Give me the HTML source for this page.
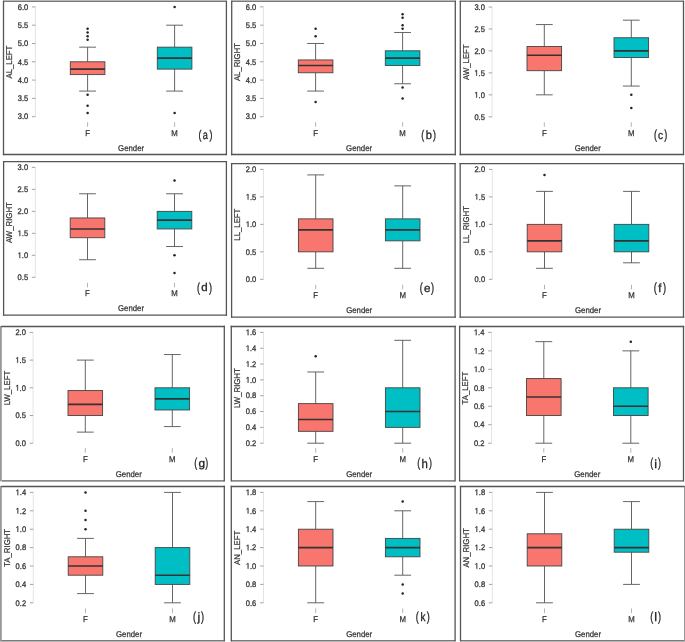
<!DOCTYPE html>
<html><head><meta charset="utf-8"><style>
html,body{margin:0;padding:0;background:#fff;}
body{width:685px;height:642px;overflow:hidden;}
svg{display:block;will-change:transform;}
text{font-family:"Liberation Sans", sans-serif;text-rendering:geometricPrecision;}
.tl{font-size:8.1px;fill:#333;stroke:#333;stroke-width:0.3px;}
.yl{font-size:8.4px;fill:#333;stroke:#333;stroke-width:0.25px;}
.xl{font-size:8.4px;fill:#333;stroke:#333;stroke-width:0.25px;}
.pl{fill:#222;stroke:#222;stroke-width:0.3px;}
.wk{stroke:#555;stroke-width:0.9;}
.bx{stroke:#444;stroke-width:0.9;}
.md{stroke:#333;stroke-width:1.6;}
.ol{fill:#222;}
.one{fill:#333;stroke:#333;stroke-width:0.3px;vector-effect:non-scaling-stroke;}
</style></head><body>
<svg width="685" height="642" viewBox="0 0 685 642">
<rect x="0" y="0" width="685" height="642" fill="#fff"/>
<rect x="3" y="0" width="223.9" height="1" fill="#b8b8b8"/>
<rect x="3" y="1" width="223.9" height="1" fill="#7a7a7a"/>
<rect x="231.2" y="0" width="224.6" height="1" fill="#b8b8b8"/>
<rect x="231.2" y="1" width="224.6" height="1" fill="#7a7a7a"/>
<rect x="459.8" y="0" width="224.2" height="1" fill="#b8b8b8"/>
<rect x="459.8" y="1" width="224.2" height="1" fill="#7a7a7a"/>
<rect x="0" y="640" width="224.8" height="1" fill="#7a7a7a"/>
<rect x="0" y="641" width="224.8" height="1" fill="#b8b8b8"/>
<rect x="230.8" y="640" width="224.8" height="1" fill="#7a7a7a"/>
<rect x="230.8" y="641" width="224.8" height="1" fill="#b8b8b8"/>
<rect x="460" y="640" width="225" height="1" fill="#7a7a7a"/>
<rect x="460" y="641" width="225" height="1" fill="#b8b8b8"/>
<rect x="0" y="326" width="1.8" height="155.3" fill="#999"/>
<rect x="0" y="486" width="1.8" height="155" fill="#999"/>
<rect x="684" y="486" width="1" height="155" fill="#999"/>
<line x1="3.5" y1="154.5" x2="226.4" y2="154.5" stroke="#555" stroke-width="1.3" stroke-linecap="square"/>
<line x1="3.5" y1="1.5" x2="3.5" y2="154.5" stroke="#555" stroke-width="1.3" stroke-linecap="square"/>
<line x1="226.4" y1="1.5" x2="226.4" y2="154.5" stroke="#555" stroke-width="1.3" stroke-linecap="square"/>
<line x1="35.4" y1="6.9" x2="35.4" y2="116.7" stroke="#e4e4e4" stroke-width="1"/>
<line x1="32" y1="116.7" x2="35.4" y2="116.7" stroke="#9a9a9a" stroke-width="0.9"/>
<g transform="translate(28.2,119.45) scale(0.93,1)">
<text x="0" y="0" text-anchor="end" class="tl">3.0</text>
</g>
<line x1="32" y1="98.4" x2="35.4" y2="98.4" stroke="#9a9a9a" stroke-width="0.9"/>
<g transform="translate(28.2,101.15) scale(0.93,1)">
<text x="0" y="0" text-anchor="end" class="tl">3.5</text>
</g>
<line x1="32" y1="80.1" x2="35.4" y2="80.1" stroke="#9a9a9a" stroke-width="0.9"/>
<g transform="translate(28.2,82.85) scale(0.93,1)">
<text x="0" y="0" text-anchor="end" class="tl">4.0</text>
</g>
<line x1="32" y1="61.8" x2="35.4" y2="61.8" stroke="#9a9a9a" stroke-width="0.9"/>
<g transform="translate(28.2,64.55) scale(0.93,1)">
<text x="0" y="0" text-anchor="end" class="tl">4.5</text>
</g>
<line x1="32" y1="43.5" x2="35.4" y2="43.5" stroke="#9a9a9a" stroke-width="0.9"/>
<g transform="translate(28.2,46.25) scale(0.93,1)">
<text x="0" y="0" text-anchor="end" class="tl">5.0</text>
</g>
<line x1="32" y1="25.2" x2="35.4" y2="25.2" stroke="#9a9a9a" stroke-width="0.9"/>
<g transform="translate(28.2,27.95) scale(0.93,1)">
<text x="0" y="0" text-anchor="end" class="tl">5.5</text>
</g>
<line x1="32" y1="6.9" x2="35.4" y2="6.9" stroke="#9a9a9a" stroke-width="0.9"/>
<g transform="translate(28.2,9.65) scale(0.93,1)">
<text x="0" y="0" text-anchor="end" class="tl">6.0</text>
</g>
<text transform="translate(12.1,62.1) rotate(-90) scale(0.93,1)" text-anchor="middle" class="yl">AL_LEFT</text>
<line x1="87.6" y1="47.16" x2="87.6" y2="61.8" class="wk"/>
<line x1="87.6" y1="74.61" x2="87.6" y2="91.08" class="wk"/>
<line x1="79.2" y1="47.16" x2="96" y2="47.16" class="wk"/>
<line x1="79.2" y1="91.08" x2="96" y2="91.08" class="wk"/>
<rect x="70.3" y="61.8" width="34.6" height="12.81" fill="#F8766D" class="bx"/>
<line x1="70.3" y1="69.12" x2="104.9" y2="69.12" class="md"/>
<circle cx="87.6" cy="28.86" r="1.25" class="ol"/>
<circle cx="87.6" cy="32.52" r="1.25" class="ol"/>
<circle cx="87.6" cy="36.18" r="1.25" class="ol"/>
<circle cx="87.6" cy="39.84" r="1.25" class="ol"/>
<circle cx="87.6" cy="94.74" r="1.25" class="ol"/>
<circle cx="87.6" cy="105.72" r="1.25" class="ol"/>
<circle cx="87.6" cy="113.04" r="1.25" class="ol"/>
<line x1="87.6" y1="122.2" x2="87.6" y2="126.7" stroke="#aaa" stroke-width="0.9"/>
<text transform="translate(87.6,135.7) scale(0.93,1)" text-anchor="middle" class="xl">F</text>
<line x1="174.6" y1="25.2" x2="174.6" y2="47.16" class="wk"/>
<line x1="174.6" y1="69.12" x2="174.6" y2="91.08" class="wk"/>
<line x1="166.2" y1="25.2" x2="183" y2="25.2" class="wk"/>
<line x1="166.2" y1="91.08" x2="183" y2="91.08" class="wk"/>
<rect x="157.3" y="47.16" width="34.6" height="21.96" fill="#00BFC4" class="bx"/>
<line x1="157.3" y1="58.14" x2="191.9" y2="58.14" class="md"/>
<circle cx="174.6" cy="6.9" r="1.25" class="ol"/>
<circle cx="174.6" cy="113.04" r="1.25" class="ol"/>
<line x1="174.6" y1="122.2" x2="174.6" y2="126.7" stroke="#aaa" stroke-width="0.9"/>
<text transform="translate(174.6,135.7) scale(0.93,1)" text-anchor="middle" class="xl">M</text>
<text transform="translate(131.1,150.7) scale(0.93,1)" text-anchor="middle" class="xl">Gender</text>
<text transform="translate(198.49,139.1) scale(0.7,1)" class="pl" font-size="12.56">(</text>
<text transform="translate(202.71,139.18) scale(0.76,1)" class="pl" font-size="12.05">a</text>
<text transform="translate(209.48,139.1) scale(0.7,1)" class="pl" font-size="12.56">)</text>
<line x1="231.7" y1="154.5" x2="455.3" y2="154.5" stroke="#555" stroke-width="1.3" stroke-linecap="square"/>
<line x1="231.7" y1="1.5" x2="231.7" y2="154.5" stroke="#555" stroke-width="1.3" stroke-linecap="square"/>
<line x1="455.3" y1="1.5" x2="455.3" y2="154.5" stroke="#555" stroke-width="1.3" stroke-linecap="square"/>
<line x1="263.4" y1="6.85" x2="263.4" y2="116.7" stroke="#e4e4e4" stroke-width="1"/>
<line x1="260" y1="116.7" x2="263.4" y2="116.7" stroke="#9a9a9a" stroke-width="0.9"/>
<g transform="translate(256.2,119.45) scale(0.93,1)">
<text x="0" y="0" text-anchor="end" class="tl">3.0</text>
</g>
<line x1="260" y1="98.39" x2="263.4" y2="98.39" stroke="#9a9a9a" stroke-width="0.9"/>
<g transform="translate(256.2,101.14) scale(0.93,1)">
<text x="0" y="0" text-anchor="end" class="tl">3.5</text>
</g>
<line x1="260" y1="80.08" x2="263.4" y2="80.08" stroke="#9a9a9a" stroke-width="0.9"/>
<g transform="translate(256.2,82.83) scale(0.93,1)">
<text x="0" y="0" text-anchor="end" class="tl">4.0</text>
</g>
<line x1="260" y1="61.78" x2="263.4" y2="61.78" stroke="#9a9a9a" stroke-width="0.9"/>
<g transform="translate(256.2,64.53) scale(0.93,1)">
<text x="0" y="0" text-anchor="end" class="tl">4.5</text>
</g>
<line x1="260" y1="43.47" x2="263.4" y2="43.47" stroke="#9a9a9a" stroke-width="0.9"/>
<g transform="translate(256.2,46.22) scale(0.93,1)">
<text x="0" y="0" text-anchor="end" class="tl">5.0</text>
</g>
<line x1="260" y1="25.16" x2="263.4" y2="25.16" stroke="#9a9a9a" stroke-width="0.9"/>
<g transform="translate(256.2,27.91) scale(0.93,1)">
<text x="0" y="0" text-anchor="end" class="tl">5.5</text>
</g>
<line x1="260" y1="6.85" x2="263.4" y2="6.85" stroke="#9a9a9a" stroke-width="0.9"/>
<g transform="translate(256.2,9.6) scale(0.93,1)">
<text x="0" y="0" text-anchor="end" class="tl">6.0</text>
</g>
<text transform="translate(240.1,62.07) rotate(-90) scale(0.93,1)" text-anchor="middle" class="yl">AL_RIGHT</text>
<line x1="315.6" y1="43.47" x2="315.6" y2="59.94" class="wk"/>
<line x1="315.6" y1="72.76" x2="315.6" y2="91.07" class="wk"/>
<line x1="307.2" y1="43.47" x2="324" y2="43.47" class="wk"/>
<line x1="307.2" y1="91.07" x2="324" y2="91.07" class="wk"/>
<rect x="298.3" y="59.94" width="34.6" height="12.82" fill="#F8766D" class="bx"/>
<line x1="298.3" y1="65.44" x2="332.9" y2="65.44" class="md"/>
<circle cx="315.6" cy="28.82" r="1.25" class="ol"/>
<circle cx="315.6" cy="36.14" r="1.25" class="ol"/>
<circle cx="315.6" cy="102.05" r="1.25" class="ol"/>
<line x1="315.6" y1="122.17" x2="315.6" y2="126.67" stroke="#aaa" stroke-width="0.9"/>
<text transform="translate(315.6,135.67) scale(0.93,1)" text-anchor="middle" class="xl">F</text>
<line x1="402.6" y1="32.48" x2="402.6" y2="50.79" class="wk"/>
<line x1="402.6" y1="65.44" x2="402.6" y2="83.75" class="wk"/>
<line x1="394.2" y1="32.48" x2="411" y2="32.48" class="wk"/>
<line x1="394.2" y1="83.75" x2="411" y2="83.75" class="wk"/>
<rect x="385.3" y="50.79" width="34.6" height="14.65" fill="#00BFC4" class="bx"/>
<line x1="385.3" y1="58.11" x2="419.9" y2="58.11" class="md"/>
<circle cx="402.6" cy="14.17" r="1.25" class="ol"/>
<circle cx="402.6" cy="17.83" r="1.25" class="ol"/>
<circle cx="402.6" cy="25.16" r="1.25" class="ol"/>
<circle cx="402.6" cy="28.82" r="1.25" class="ol"/>
<circle cx="402.6" cy="87.41" r="1.25" class="ol"/>
<circle cx="402.6" cy="98.39" r="1.25" class="ol"/>
<line x1="402.6" y1="122.17" x2="402.6" y2="126.67" stroke="#aaa" stroke-width="0.9"/>
<text transform="translate(402.6,135.67) scale(0.93,1)" text-anchor="middle" class="xl">M</text>
<text transform="translate(359.1,150.68) scale(0.93,1)" text-anchor="middle" class="xl">Gender</text>
<text transform="translate(421.24,139.1) scale(0.7,1)" class="pl" font-size="12.56">(</text>
<text transform="translate(425.68,139.18) scale(0.93,1)" class="pl" font-size="11.98">b</text>
<text transform="translate(433.08,139.1) scale(0.7,1)" class="pl" font-size="12.56">)</text>
<line x1="460.3" y1="154.5" x2="683.5" y2="154.5" stroke="#555" stroke-width="1.3" stroke-linecap="square"/>
<line x1="460.3" y1="1.5" x2="460.3" y2="154.5" stroke="#555" stroke-width="1.3" stroke-linecap="square"/>
<line x1="683.5" y1="1.5" x2="683.5" y2="154.5" stroke="#555" stroke-width="1.3" stroke-linecap="square"/>
<line x1="492.1" y1="7" x2="492.1" y2="116.8" stroke="#e4e4e4" stroke-width="1"/>
<line x1="488.7" y1="116.8" x2="492.1" y2="116.8" stroke="#9a9a9a" stroke-width="0.9"/>
<g transform="translate(484.9,119.55) scale(0.93,1)">
<text x="0" y="0" text-anchor="end" class="tl">0.5</text>
</g>
<line x1="488.7" y1="94.84" x2="492.1" y2="94.84" stroke="#9a9a9a" stroke-width="0.9"/>
<g transform="translate(484.9,97.59) scale(0.93,1)">
<text x="0" y="0" text-anchor="end" class="tl"> .0</text>
<path transform="translate(-11.26,0) scale(0.00396,-0.00396)" d="M515 0L515 1237L197 1010L197 1180L530 1409L696 1409L696 0Z" class="one"/>
</g>
<line x1="488.7" y1="72.88" x2="492.1" y2="72.88" stroke="#9a9a9a" stroke-width="0.9"/>
<g transform="translate(484.9,75.63) scale(0.93,1)">
<text x="0" y="0" text-anchor="end" class="tl"> .5</text>
<path transform="translate(-11.26,0) scale(0.00396,-0.00396)" d="M515 0L515 1237L197 1010L197 1180L530 1409L696 1409L696 0Z" class="one"/>
</g>
<line x1="488.7" y1="50.92" x2="492.1" y2="50.92" stroke="#9a9a9a" stroke-width="0.9"/>
<g transform="translate(484.9,53.67) scale(0.93,1)">
<text x="0" y="0" text-anchor="end" class="tl">2.0</text>
</g>
<line x1="488.7" y1="28.96" x2="492.1" y2="28.96" stroke="#9a9a9a" stroke-width="0.9"/>
<g transform="translate(484.9,31.71) scale(0.93,1)">
<text x="0" y="0" text-anchor="end" class="tl">2.5</text>
</g>
<line x1="488.7" y1="7" x2="492.1" y2="7" stroke="#9a9a9a" stroke-width="0.9"/>
<g transform="translate(484.9,9.75) scale(0.93,1)">
<text x="0" y="0" text-anchor="end" class="tl">3.0</text>
</g>
<text transform="translate(468.8,62.2) rotate(-90) scale(0.93,1)" text-anchor="middle" class="yl">AW_LEFT</text>
<line x1="544.3" y1="24.57" x2="544.3" y2="46.53" class="wk"/>
<line x1="544.3" y1="70.68" x2="544.3" y2="94.84" class="wk"/>
<line x1="535.9" y1="24.57" x2="552.7" y2="24.57" class="wk"/>
<line x1="535.9" y1="94.84" x2="552.7" y2="94.84" class="wk"/>
<rect x="527" y="46.53" width="34.6" height="24.16" fill="#F8766D" class="bx"/>
<line x1="527" y1="55.31" x2="561.6" y2="55.31" class="md"/>
<line x1="544.3" y1="122.3" x2="544.3" y2="126.8" stroke="#aaa" stroke-width="0.9"/>
<text transform="translate(544.3,135.8) scale(0.93,1)" text-anchor="middle" class="xl">F</text>
<line x1="631.3" y1="20.18" x2="631.3" y2="37.74" class="wk"/>
<line x1="631.3" y1="57.51" x2="631.3" y2="86.06" class="wk"/>
<line x1="622.9" y1="20.18" x2="639.7" y2="20.18" class="wk"/>
<line x1="622.9" y1="86.06" x2="639.7" y2="86.06" class="wk"/>
<rect x="614" y="37.74" width="34.6" height="19.76" fill="#00BFC4" class="bx"/>
<line x1="614" y1="50.92" x2="648.6" y2="50.92" class="md"/>
<circle cx="631.3" cy="94.84" r="1.25" class="ol"/>
<circle cx="631.3" cy="108.02" r="1.25" class="ol"/>
<line x1="631.3" y1="122.3" x2="631.3" y2="126.8" stroke="#aaa" stroke-width="0.9"/>
<text transform="translate(631.3,135.8) scale(0.93,1)" text-anchor="middle" class="xl">M</text>
<text transform="translate(587.8,150.8) scale(0.93,1)" text-anchor="middle" class="xl">Gender</text>
<text transform="translate(653.93,139.21) scale(0.7,1)" class="pl" font-size="12.99">(</text>
<text transform="translate(658.07,139.19) scale(0.9,1)" class="pl" font-size="11.32">c</text>
<text transform="translate(664.34,139.21) scale(0.7,1)" class="pl" font-size="12.99">)</text>
<line x1="3.6" y1="161.7" x2="226.4" y2="161.7" stroke="#555" stroke-width="1.3" stroke-linecap="square"/>
<line x1="3.6" y1="315.1" x2="226.4" y2="315.1" stroke="#555" stroke-width="1.3" stroke-linecap="square"/>
<line x1="3.6" y1="161.7" x2="3.6" y2="315.1" stroke="#555" stroke-width="1.3" stroke-linecap="square"/>
<line x1="226.4" y1="161.7" x2="226.4" y2="315.1" stroke="#555" stroke-width="1.3" stroke-linecap="square"/>
<line x1="35.3" y1="167.4" x2="35.3" y2="277.3" stroke="#e4e4e4" stroke-width="1"/>
<line x1="31.9" y1="277.3" x2="35.3" y2="277.3" stroke="#9a9a9a" stroke-width="0.9"/>
<g transform="translate(28.1,280.05) scale(0.93,1)">
<text x="0" y="0" text-anchor="end" class="tl">0.5</text>
</g>
<line x1="31.9" y1="255.32" x2="35.3" y2="255.32" stroke="#9a9a9a" stroke-width="0.9"/>
<g transform="translate(28.1,258.07) scale(0.93,1)">
<text x="0" y="0" text-anchor="end" class="tl"> .0</text>
<path transform="translate(-11.26,0) scale(0.00396,-0.00396)" d="M515 0L515 1237L197 1010L197 1180L530 1409L696 1409L696 0Z" class="one"/>
</g>
<line x1="31.9" y1="233.34" x2="35.3" y2="233.34" stroke="#9a9a9a" stroke-width="0.9"/>
<g transform="translate(28.1,236.09) scale(0.93,1)">
<text x="0" y="0" text-anchor="end" class="tl"> .5</text>
<path transform="translate(-11.26,0) scale(0.00396,-0.00396)" d="M515 0L515 1237L197 1010L197 1180L530 1409L696 1409L696 0Z" class="one"/>
</g>
<line x1="31.9" y1="211.36" x2="35.3" y2="211.36" stroke="#9a9a9a" stroke-width="0.9"/>
<g transform="translate(28.1,214.11) scale(0.93,1)">
<text x="0" y="0" text-anchor="end" class="tl">2.0</text>
</g>
<line x1="31.9" y1="189.38" x2="35.3" y2="189.38" stroke="#9a9a9a" stroke-width="0.9"/>
<g transform="translate(28.1,192.13) scale(0.93,1)">
<text x="0" y="0" text-anchor="end" class="tl">2.5</text>
</g>
<line x1="31.9" y1="167.4" x2="35.3" y2="167.4" stroke="#9a9a9a" stroke-width="0.9"/>
<g transform="translate(28.1,170.15) scale(0.93,1)">
<text x="0" y="0" text-anchor="end" class="tl">3.0</text>
</g>
<text transform="translate(12,222.65) rotate(-90) scale(0.93,1)" text-anchor="middle" class="yl">AW_RIGHT</text>
<line x1="87.5" y1="193.78" x2="87.5" y2="217.95" class="wk"/>
<line x1="87.5" y1="237.74" x2="87.5" y2="259.72" class="wk"/>
<line x1="79.1" y1="193.78" x2="95.9" y2="193.78" class="wk"/>
<line x1="79.1" y1="259.72" x2="95.9" y2="259.72" class="wk"/>
<rect x="70.2" y="217.95" width="34.6" height="19.78" fill="#F8766D" class="bx"/>
<line x1="70.2" y1="228.94" x2="104.8" y2="228.94" class="md"/>
<line x1="87.5" y1="282.74" x2="87.5" y2="287.24" stroke="#aaa" stroke-width="0.9"/>
<text transform="translate(87.5,296.25) scale(0.93,1)" text-anchor="middle" class="xl">F</text>
<line x1="174.5" y1="193.78" x2="174.5" y2="211.36" class="wk"/>
<line x1="174.5" y1="228.94" x2="174.5" y2="246.53" class="wk"/>
<line x1="166.1" y1="193.78" x2="182.9" y2="193.78" class="wk"/>
<line x1="166.1" y1="246.53" x2="182.9" y2="246.53" class="wk"/>
<rect x="157.2" y="211.36" width="34.6" height="17.58" fill="#00BFC4" class="bx"/>
<line x1="157.2" y1="220.15" x2="191.8" y2="220.15" class="md"/>
<circle cx="174.5" cy="180.59" r="1.25" class="ol"/>
<circle cx="174.5" cy="255.32" r="1.25" class="ol"/>
<circle cx="174.5" cy="272.9" r="1.25" class="ol"/>
<line x1="174.5" y1="282.74" x2="174.5" y2="287.24" stroke="#aaa" stroke-width="0.9"/>
<text transform="translate(174.5,296.25) scale(0.93,1)" text-anchor="middle" class="xl">M</text>
<text transform="translate(131,311.25) scale(0.93,1)" text-anchor="middle" class="xl">Gender</text>
<text transform="translate(196.98,291.61) scale(0.7,1)" class="pl" font-size="12.99">(</text>
<text transform="translate(201.21,291.39) scale(1.02,1)" class="pl" font-size="11.3">d</text>
<text transform="translate(208.94,291.61) scale(0.7,1)" class="pl" font-size="12.99">)</text>
<line x1="231.6" y1="163.6" x2="455.1" y2="163.6" stroke="#555" stroke-width="1.3" stroke-linecap="square"/>
<line x1="231.6" y1="317.1" x2="455.1" y2="317.1" stroke="#555" stroke-width="1.3" stroke-linecap="square"/>
<line x1="231.6" y1="163.6" x2="231.6" y2="317.1" stroke="#555" stroke-width="1.3" stroke-linecap="square"/>
<line x1="455.1" y1="163.6" x2="455.1" y2="317.1" stroke="#555" stroke-width="1.3" stroke-linecap="square"/>
<line x1="263.5" y1="169.4" x2="263.5" y2="279.3" stroke="#e4e4e4" stroke-width="1"/>
<line x1="260.1" y1="279.3" x2="263.5" y2="279.3" stroke="#9a9a9a" stroke-width="0.9"/>
<g transform="translate(256.3,282.05) scale(0.93,1)">
<text x="0" y="0" text-anchor="end" class="tl">0.0</text>
</g>
<line x1="260.1" y1="251.83" x2="263.5" y2="251.83" stroke="#9a9a9a" stroke-width="0.9"/>
<g transform="translate(256.3,254.58) scale(0.93,1)">
<text x="0" y="0" text-anchor="end" class="tl">0.5</text>
</g>
<line x1="260.1" y1="224.35" x2="263.5" y2="224.35" stroke="#9a9a9a" stroke-width="0.9"/>
<g transform="translate(256.3,227.1) scale(0.93,1)">
<text x="0" y="0" text-anchor="end" class="tl"> .0</text>
<path transform="translate(-11.26,0) scale(0.00396,-0.00396)" d="M515 0L515 1237L197 1010L197 1180L530 1409L696 1409L696 0Z" class="one"/>
</g>
<line x1="260.1" y1="196.88" x2="263.5" y2="196.88" stroke="#9a9a9a" stroke-width="0.9"/>
<g transform="translate(256.3,199.62) scale(0.93,1)">
<text x="0" y="0" text-anchor="end" class="tl"> .5</text>
<path transform="translate(-11.26,0) scale(0.00396,-0.00396)" d="M515 0L515 1237L197 1010L197 1180L530 1409L696 1409L696 0Z" class="one"/>
</g>
<line x1="260.1" y1="169.4" x2="263.5" y2="169.4" stroke="#9a9a9a" stroke-width="0.9"/>
<g transform="translate(256.3,172.15) scale(0.93,1)">
<text x="0" y="0" text-anchor="end" class="tl">2.0</text>
</g>
<text transform="translate(240.2,224.65) rotate(-90) scale(0.93,1)" text-anchor="middle" class="yl">LL_LEFT</text>
<line x1="315.7" y1="174.9" x2="315.7" y2="218.86" class="wk"/>
<line x1="315.7" y1="251.83" x2="315.7" y2="268.31" class="wk"/>
<line x1="307.3" y1="174.9" x2="324.1" y2="174.9" class="wk"/>
<line x1="307.3" y1="268.31" x2="324.1" y2="268.31" class="wk"/>
<rect x="298.4" y="218.86" width="34.6" height="32.97" fill="#F8766D" class="bx"/>
<line x1="298.4" y1="229.85" x2="333" y2="229.85" class="md"/>
<line x1="315.7" y1="284.74" x2="315.7" y2="289.24" stroke="#aaa" stroke-width="0.9"/>
<text transform="translate(315.7,298.25) scale(0.93,1)" text-anchor="middle" class="xl">F</text>
<line x1="402.7" y1="185.89" x2="402.7" y2="218.86" class="wk"/>
<line x1="402.7" y1="240.84" x2="402.7" y2="268.31" class="wk"/>
<line x1="394.3" y1="185.89" x2="411.1" y2="185.89" class="wk"/>
<line x1="394.3" y1="268.31" x2="411.1" y2="268.31" class="wk"/>
<rect x="385.4" y="218.86" width="34.6" height="21.98" fill="#00BFC4" class="bx"/>
<line x1="385.4" y1="229.85" x2="420" y2="229.85" class="md"/>
<line x1="402.7" y1="284.74" x2="402.7" y2="289.24" stroke="#aaa" stroke-width="0.9"/>
<text transform="translate(402.7,298.25) scale(0.93,1)" text-anchor="middle" class="xl">M</text>
<text transform="translate(359.2,313.25) scale(0.93,1)" text-anchor="middle" class="xl">Gender</text>
<text transform="translate(419.8,291.57) scale(0.7,1)" class="pl" font-size="13.2">(</text>
<text transform="translate(423.91,291.59) scale(1,1)" class="pl" font-size="11.5">e</text>
<text transform="translate(431.02,291.57) scale(0.7,1)" class="pl" font-size="13.2">)</text>
<line x1="460.2" y1="163.6" x2="683.5" y2="163.6" stroke="#555" stroke-width="1.3" stroke-linecap="square"/>
<line x1="460.2" y1="317.1" x2="683.5" y2="317.1" stroke="#555" stroke-width="1.3" stroke-linecap="square"/>
<line x1="460.2" y1="163.6" x2="460.2" y2="317.1" stroke="#555" stroke-width="1.3" stroke-linecap="square"/>
<line x1="683.5" y1="163.6" x2="683.5" y2="317.1" stroke="#555" stroke-width="1.3" stroke-linecap="square"/>
<line x1="492.3" y1="169.4" x2="492.3" y2="279.3" stroke="#e4e4e4" stroke-width="1"/>
<line x1="488.9" y1="279.3" x2="492.3" y2="279.3" stroke="#9a9a9a" stroke-width="0.9"/>
<g transform="translate(485.1,282.05) scale(0.93,1)">
<text x="0" y="0" text-anchor="end" class="tl">0.0</text>
</g>
<line x1="488.9" y1="251.83" x2="492.3" y2="251.83" stroke="#9a9a9a" stroke-width="0.9"/>
<g transform="translate(485.1,254.58) scale(0.93,1)">
<text x="0" y="0" text-anchor="end" class="tl">0.5</text>
</g>
<line x1="488.9" y1="224.35" x2="492.3" y2="224.35" stroke="#9a9a9a" stroke-width="0.9"/>
<g transform="translate(485.1,227.1) scale(0.93,1)">
<text x="0" y="0" text-anchor="end" class="tl"> .0</text>
<path transform="translate(-11.26,0) scale(0.00396,-0.00396)" d="M515 0L515 1237L197 1010L197 1180L530 1409L696 1409L696 0Z" class="one"/>
</g>
<line x1="488.9" y1="196.88" x2="492.3" y2="196.88" stroke="#9a9a9a" stroke-width="0.9"/>
<g transform="translate(485.1,199.62) scale(0.93,1)">
<text x="0" y="0" text-anchor="end" class="tl"> .5</text>
<path transform="translate(-11.26,0) scale(0.00396,-0.00396)" d="M515 0L515 1237L197 1010L197 1180L530 1409L696 1409L696 0Z" class="one"/>
</g>
<line x1="488.9" y1="169.4" x2="492.3" y2="169.4" stroke="#9a9a9a" stroke-width="0.9"/>
<g transform="translate(485.1,172.15) scale(0.93,1)">
<text x="0" y="0" text-anchor="end" class="tl">2.0</text>
</g>
<text transform="translate(469,224.65) rotate(-90) scale(0.93,1)" text-anchor="middle" class="yl">LL_RIGHT</text>
<line x1="544.5" y1="191.38" x2="544.5" y2="224.35" class="wk"/>
<line x1="544.5" y1="251.83" x2="544.5" y2="268.31" class="wk"/>
<line x1="536.1" y1="191.38" x2="552.9" y2="191.38" class="wk"/>
<line x1="536.1" y1="268.31" x2="552.9" y2="268.31" class="wk"/>
<rect x="527.2" y="224.35" width="34.6" height="27.47" fill="#F8766D" class="bx"/>
<line x1="527.2" y1="240.84" x2="561.8" y2="240.84" class="md"/>
<circle cx="544.5" cy="174.9" r="1.25" class="ol"/>
<line x1="544.5" y1="284.74" x2="544.5" y2="289.24" stroke="#aaa" stroke-width="0.9"/>
<text transform="translate(544.5,298.25) scale(0.93,1)" text-anchor="middle" class="xl">F</text>
<line x1="631.5" y1="191.38" x2="631.5" y2="224.35" class="wk"/>
<line x1="631.5" y1="251.83" x2="631.5" y2="262.81" class="wk"/>
<line x1="623.1" y1="191.38" x2="639.9" y2="191.38" class="wk"/>
<line x1="623.1" y1="262.81" x2="639.9" y2="262.81" class="wk"/>
<rect x="614.2" y="224.35" width="34.6" height="27.47" fill="#00BFC4" class="bx"/>
<line x1="614.2" y1="240.84" x2="648.8" y2="240.84" class="md"/>
<line x1="631.5" y1="284.74" x2="631.5" y2="289.24" stroke="#aaa" stroke-width="0.9"/>
<text transform="translate(631.5,298.25) scale(0.93,1)" text-anchor="middle" class="xl">M</text>
<text transform="translate(588,313.25) scale(0.93,1)" text-anchor="middle" class="xl">Gender</text>
<text transform="translate(653.74,291.64) scale(0.7,1)" class="pl" font-size="13.31">(</text>
<text transform="translate(658.34,291.7) scale(0.96,1)" class="pl" font-size="11.75">f</text>
<text transform="translate(663.01,291.64) scale(0.7,1)" class="pl" font-size="13.31">)</text>
<line x1="1.8" y1="326.5" x2="224.3" y2="326.5" stroke="#555" stroke-width="1.3" stroke-linecap="square"/>
<line x1="1.8" y1="480.9" x2="224.3" y2="480.9" stroke="#8a8a8a" stroke-width="1.7"/>
<line x1="224.3" y1="326.5" x2="224.3" y2="480.8" stroke="#555" stroke-width="1.3" stroke-linecap="square"/>
<line x1="33.1" y1="332.4" x2="33.1" y2="443.2" stroke="#e4e4e4" stroke-width="1"/>
<line x1="29.7" y1="443.2" x2="33.1" y2="443.2" stroke="#9a9a9a" stroke-width="0.9"/>
<g transform="translate(25.9,445.95) scale(0.93,1)">
<text x="0" y="0" text-anchor="end" class="tl">0.0</text>
</g>
<line x1="29.7" y1="415.5" x2="33.1" y2="415.5" stroke="#9a9a9a" stroke-width="0.9"/>
<g transform="translate(25.9,418.25) scale(0.93,1)">
<text x="0" y="0" text-anchor="end" class="tl">0.5</text>
</g>
<line x1="29.7" y1="387.8" x2="33.1" y2="387.8" stroke="#9a9a9a" stroke-width="0.9"/>
<g transform="translate(25.9,390.55) scale(0.93,1)">
<text x="0" y="0" text-anchor="end" class="tl"> .0</text>
<path transform="translate(-11.26,0) scale(0.00396,-0.00396)" d="M515 0L515 1237L197 1010L197 1180L530 1409L696 1409L696 0Z" class="one"/>
</g>
<line x1="29.7" y1="360.1" x2="33.1" y2="360.1" stroke="#9a9a9a" stroke-width="0.9"/>
<g transform="translate(25.9,362.85) scale(0.93,1)">
<text x="0" y="0" text-anchor="end" class="tl"> .5</text>
<path transform="translate(-11.26,0) scale(0.00396,-0.00396)" d="M515 0L515 1237L197 1010L197 1180L530 1409L696 1409L696 0Z" class="one"/>
</g>
<line x1="29.7" y1="332.4" x2="33.1" y2="332.4" stroke="#9a9a9a" stroke-width="0.9"/>
<g transform="translate(25.9,335.15) scale(0.93,1)">
<text x="0" y="0" text-anchor="end" class="tl">2.0</text>
</g>
<text transform="translate(9.8,388.1) rotate(-90) scale(0.93,1)" text-anchor="middle" class="yl">LW_LEFT</text>
<line x1="85.3" y1="360.1" x2="85.3" y2="390.57" class="wk"/>
<line x1="85.3" y1="415.5" x2="85.3" y2="432.12" class="wk"/>
<line x1="76.9" y1="360.1" x2="93.7" y2="360.1" class="wk"/>
<line x1="76.9" y1="432.12" x2="93.7" y2="432.12" class="wk"/>
<rect x="68" y="390.57" width="34.6" height="24.93" fill="#F8766D" class="bx"/>
<line x1="68" y1="404.42" x2="102.6" y2="404.42" class="md"/>
<line x1="85.3" y1="448.12" x2="85.3" y2="452.64" stroke="#aaa" stroke-width="0.9"/>
<text transform="translate(85.3,461.67) scale(0.93,1)" text-anchor="middle" class="xl">F</text>
<line x1="172.3" y1="354.56" x2="172.3" y2="387.8" class="wk"/>
<line x1="172.3" y1="409.96" x2="172.3" y2="426.58" class="wk"/>
<line x1="163.9" y1="354.56" x2="180.7" y2="354.56" class="wk"/>
<line x1="163.9" y1="426.58" x2="180.7" y2="426.58" class="wk"/>
<rect x="155" y="387.8" width="34.6" height="22.16" fill="#00BFC4" class="bx"/>
<line x1="155" y1="398.88" x2="189.6" y2="398.88" class="md"/>
<line x1="172.3" y1="448.12" x2="172.3" y2="452.64" stroke="#aaa" stroke-width="0.9"/>
<text transform="translate(172.3,461.67) scale(0.93,1)" text-anchor="middle" class="xl">M</text>
<text transform="translate(128.8,476.72) scale(0.93,1)" text-anchor="middle" class="xl">Gender</text>
<text transform="translate(194.31,467.26) scale(0.7,1)" class="pl" font-size="12.77">(</text>
<text transform="translate(198.49,466.94) scale(1.04,1)" class="pl" font-size="11.39" font-family="Liberation Serif">g</text>
<text transform="translate(205.31,467.26) scale(0.7,1)" class="pl" font-size="12.77">)</text>
<line x1="231.3" y1="326.5" x2="455.1" y2="326.5" stroke="#555" stroke-width="1.3" stroke-linecap="square"/>
<line x1="231.3" y1="480.9" x2="455.1" y2="480.9" stroke="#8a8a8a" stroke-width="1.7"/>
<line x1="231.3" y1="326.5" x2="231.3" y2="480.8" stroke="#555" stroke-width="1.3" stroke-linecap="square"/>
<line x1="455.1" y1="326.5" x2="455.1" y2="480.8" stroke="#555" stroke-width="1.3" stroke-linecap="square"/>
<line x1="263.5" y1="332.4" x2="263.5" y2="443.2" stroke="#e4e4e4" stroke-width="1"/>
<line x1="260.1" y1="443.2" x2="263.5" y2="443.2" stroke="#9a9a9a" stroke-width="0.9"/>
<g transform="translate(256.3,445.95) scale(0.93,1)">
<text x="0" y="0" text-anchor="end" class="tl">0.2</text>
</g>
<line x1="260.1" y1="427.37" x2="263.5" y2="427.37" stroke="#9a9a9a" stroke-width="0.9"/>
<g transform="translate(256.3,430.12) scale(0.93,1)">
<text x="0" y="0" text-anchor="end" class="tl">0.4</text>
</g>
<line x1="260.1" y1="411.54" x2="263.5" y2="411.54" stroke="#9a9a9a" stroke-width="0.9"/>
<g transform="translate(256.3,414.29) scale(0.93,1)">
<text x="0" y="0" text-anchor="end" class="tl">0.6</text>
</g>
<line x1="260.1" y1="395.71" x2="263.5" y2="395.71" stroke="#9a9a9a" stroke-width="0.9"/>
<g transform="translate(256.3,398.46) scale(0.93,1)">
<text x="0" y="0" text-anchor="end" class="tl">0.8</text>
</g>
<line x1="260.1" y1="379.89" x2="263.5" y2="379.89" stroke="#9a9a9a" stroke-width="0.9"/>
<g transform="translate(256.3,382.64) scale(0.93,1)">
<text x="0" y="0" text-anchor="end" class="tl"> .0</text>
<path transform="translate(-11.26,0) scale(0.00396,-0.00396)" d="M515 0L515 1237L197 1010L197 1180L530 1409L696 1409L696 0Z" class="one"/>
</g>
<line x1="260.1" y1="364.06" x2="263.5" y2="364.06" stroke="#9a9a9a" stroke-width="0.9"/>
<g transform="translate(256.3,366.81) scale(0.93,1)">
<text x="0" y="0" text-anchor="end" class="tl"> .2</text>
<path transform="translate(-11.26,0) scale(0.00396,-0.00396)" d="M515 0L515 1237L197 1010L197 1180L530 1409L696 1409L696 0Z" class="one"/>
</g>
<line x1="260.1" y1="348.23" x2="263.5" y2="348.23" stroke="#9a9a9a" stroke-width="0.9"/>
<g transform="translate(256.3,350.98) scale(0.93,1)">
<text x="0" y="0" text-anchor="end" class="tl"> .4</text>
<path transform="translate(-11.26,0) scale(0.00396,-0.00396)" d="M515 0L515 1237L197 1010L197 1180L530 1409L696 1409L696 0Z" class="one"/>
</g>
<line x1="260.1" y1="332.4" x2="263.5" y2="332.4" stroke="#9a9a9a" stroke-width="0.9"/>
<g transform="translate(256.3,335.15) scale(0.93,1)">
<text x="0" y="0" text-anchor="end" class="tl"> .6</text>
<path transform="translate(-11.26,0) scale(0.00396,-0.00396)" d="M515 0L515 1237L197 1010L197 1180L530 1409L696 1409L696 0Z" class="one"/>
</g>
<text transform="translate(240.2,388.1) rotate(-90) scale(0.93,1)" text-anchor="middle" class="yl">LW_RIGHT</text>
<line x1="315.7" y1="371.97" x2="315.7" y2="403.63" class="wk"/>
<line x1="315.7" y1="431.33" x2="315.7" y2="443.2" class="wk"/>
<line x1="307.3" y1="371.97" x2="324.1" y2="371.97" class="wk"/>
<line x1="307.3" y1="443.2" x2="324.1" y2="443.2" class="wk"/>
<rect x="298.4" y="403.63" width="34.6" height="27.7" fill="#F8766D" class="bx"/>
<line x1="298.4" y1="419.46" x2="333" y2="419.46" class="md"/>
<circle cx="315.7" cy="356.14" r="1.25" class="ol"/>
<line x1="315.7" y1="448.12" x2="315.7" y2="452.64" stroke="#aaa" stroke-width="0.9"/>
<text transform="translate(315.7,461.67) scale(0.93,1)" text-anchor="middle" class="xl">F</text>
<line x1="402.7" y1="340.31" x2="402.7" y2="387.8" class="wk"/>
<line x1="402.7" y1="427.37" x2="402.7" y2="443.2" class="wk"/>
<line x1="394.3" y1="340.31" x2="411.1" y2="340.31" class="wk"/>
<line x1="394.3" y1="443.2" x2="411.1" y2="443.2" class="wk"/>
<rect x="385.4" y="387.8" width="34.6" height="39.57" fill="#00BFC4" class="bx"/>
<line x1="385.4" y1="411.54" x2="420" y2="411.54" class="md"/>
<line x1="402.7" y1="448.12" x2="402.7" y2="452.64" stroke="#aaa" stroke-width="0.9"/>
<text transform="translate(402.7,461.67) scale(0.93,1)" text-anchor="middle" class="xl">M</text>
<text transform="translate(359.2,476.72) scale(0.93,1)" text-anchor="middle" class="xl">Gender</text>
<text transform="translate(417.21,467.26) scale(0.7,1)" class="pl" font-size="12.77">(</text>
<text transform="translate(421.41,467.5) scale(0.92,1)" class="pl" font-size="12.42">h</text>
<text transform="translate(428.96,467.26) scale(0.7,1)" class="pl" font-size="12.77">)</text>
<line x1="459.6" y1="326.5" x2="683.5" y2="326.5" stroke="#555" stroke-width="1.3" stroke-linecap="square"/>
<line x1="459.6" y1="480.9" x2="683.5" y2="480.9" stroke="#8a8a8a" stroke-width="1.7"/>
<line x1="459.6" y1="326.5" x2="459.6" y2="480.8" stroke="#555" stroke-width="1.3" stroke-linecap="square"/>
<line x1="683.5" y1="326.5" x2="683.5" y2="480.8" stroke="#555" stroke-width="1.3" stroke-linecap="square"/>
<line x1="491.6" y1="332.4" x2="491.6" y2="443.2" stroke="#e4e4e4" stroke-width="1"/>
<line x1="488.2" y1="443.2" x2="491.6" y2="443.2" stroke="#9a9a9a" stroke-width="0.9"/>
<g transform="translate(484.4,445.95) scale(0.93,1)">
<text x="0" y="0" text-anchor="end" class="tl">0.2</text>
</g>
<line x1="488.2" y1="424.73" x2="491.6" y2="424.73" stroke="#9a9a9a" stroke-width="0.9"/>
<g transform="translate(484.4,427.48) scale(0.93,1)">
<text x="0" y="0" text-anchor="end" class="tl">0.4</text>
</g>
<line x1="488.2" y1="406.27" x2="491.6" y2="406.27" stroke="#9a9a9a" stroke-width="0.9"/>
<g transform="translate(484.4,409.02) scale(0.93,1)">
<text x="0" y="0" text-anchor="end" class="tl">0.6</text>
</g>
<line x1="488.2" y1="387.8" x2="491.6" y2="387.8" stroke="#9a9a9a" stroke-width="0.9"/>
<g transform="translate(484.4,390.55) scale(0.93,1)">
<text x="0" y="0" text-anchor="end" class="tl">0.8</text>
</g>
<line x1="488.2" y1="369.33" x2="491.6" y2="369.33" stroke="#9a9a9a" stroke-width="0.9"/>
<g transform="translate(484.4,372.08) scale(0.93,1)">
<text x="0" y="0" text-anchor="end" class="tl"> .0</text>
<path transform="translate(-11.26,0) scale(0.00396,-0.00396)" d="M515 0L515 1237L197 1010L197 1180L530 1409L696 1409L696 0Z" class="one"/>
</g>
<line x1="488.2" y1="350.87" x2="491.6" y2="350.87" stroke="#9a9a9a" stroke-width="0.9"/>
<g transform="translate(484.4,353.62) scale(0.93,1)">
<text x="0" y="0" text-anchor="end" class="tl"> .2</text>
<path transform="translate(-11.26,0) scale(0.00396,-0.00396)" d="M515 0L515 1237L197 1010L197 1180L530 1409L696 1409L696 0Z" class="one"/>
</g>
<line x1="488.2" y1="332.4" x2="491.6" y2="332.4" stroke="#9a9a9a" stroke-width="0.9"/>
<g transform="translate(484.4,335.15) scale(0.93,1)">
<text x="0" y="0" text-anchor="end" class="tl"> .4</text>
<path transform="translate(-11.26,0) scale(0.00396,-0.00396)" d="M515 0L515 1237L197 1010L197 1180L530 1409L696 1409L696 0Z" class="one"/>
</g>
<text transform="translate(468.3,388.1) rotate(-90) scale(0.93,1)" text-anchor="middle" class="yl">TA_LEFT</text>
<line x1="543.8" y1="341.63" x2="543.8" y2="378.57" class="wk"/>
<line x1="543.8" y1="415.5" x2="543.8" y2="443.2" class="wk"/>
<line x1="535.4" y1="341.63" x2="552.2" y2="341.63" class="wk"/>
<line x1="535.4" y1="443.2" x2="552.2" y2="443.2" class="wk"/>
<rect x="526.5" y="378.57" width="34.6" height="36.93" fill="#F8766D" class="bx"/>
<line x1="526.5" y1="397.03" x2="561.1" y2="397.03" class="md"/>
<line x1="543.8" y1="448.12" x2="543.8" y2="452.64" stroke="#aaa" stroke-width="0.9"/>
<text transform="translate(543.8,461.67) scale(0.93,1)" text-anchor="middle" class="xl">F</text>
<line x1="630.8" y1="350.87" x2="630.8" y2="387.8" class="wk"/>
<line x1="630.8" y1="415.5" x2="630.8" y2="443.2" class="wk"/>
<line x1="622.4" y1="350.87" x2="639.2" y2="350.87" class="wk"/>
<line x1="622.4" y1="443.2" x2="639.2" y2="443.2" class="wk"/>
<rect x="613.5" y="387.8" width="34.6" height="27.7" fill="#00BFC4" class="bx"/>
<line x1="613.5" y1="406.27" x2="648.1" y2="406.27" class="md"/>
<circle cx="630.8" cy="341.63" r="1.25" class="ol"/>
<line x1="630.8" y1="448.12" x2="630.8" y2="452.64" stroke="#aaa" stroke-width="0.9"/>
<text transform="translate(630.8,461.67) scale(0.93,1)" text-anchor="middle" class="xl">M</text>
<text transform="translate(587.3,476.72) scale(0.93,1)" text-anchor="middle" class="xl">Gender</text>
<text transform="translate(650.31,467.26) scale(0.7,1)" class="pl" font-size="12.77">(</text>
<text transform="translate(654.26,467.5) scale(1.07,1)" class="pl" font-size="11.73">i</text>
<text transform="translate(658.01,467.26) scale(0.7,1)" class="pl" font-size="12.77">)</text>
<line x1="1.8" y1="486.5" x2="224.3" y2="486.5" stroke="#555" stroke-width="1.3" stroke-linecap="square"/>
<line x1="224.3" y1="486.5" x2="224.3" y2="640.5" stroke="#555" stroke-width="1.3" stroke-linecap="square"/>
<line x1="33.3" y1="492.4" x2="33.3" y2="602.8" stroke="#e4e4e4" stroke-width="1"/>
<line x1="29.9" y1="602.8" x2="33.3" y2="602.8" stroke="#9a9a9a" stroke-width="0.9"/>
<g transform="translate(26.1,605.55) scale(0.93,1)">
<text x="0" y="0" text-anchor="end" class="tl">0.2</text>
</g>
<line x1="29.9" y1="584.4" x2="33.3" y2="584.4" stroke="#9a9a9a" stroke-width="0.9"/>
<g transform="translate(26.1,587.15) scale(0.93,1)">
<text x="0" y="0" text-anchor="end" class="tl">0.4</text>
</g>
<line x1="29.9" y1="566" x2="33.3" y2="566" stroke="#9a9a9a" stroke-width="0.9"/>
<g transform="translate(26.1,568.75) scale(0.93,1)">
<text x="0" y="0" text-anchor="end" class="tl">0.6</text>
</g>
<line x1="29.9" y1="547.6" x2="33.3" y2="547.6" stroke="#9a9a9a" stroke-width="0.9"/>
<g transform="translate(26.1,550.35) scale(0.93,1)">
<text x="0" y="0" text-anchor="end" class="tl">0.8</text>
</g>
<line x1="29.9" y1="529.2" x2="33.3" y2="529.2" stroke="#9a9a9a" stroke-width="0.9"/>
<g transform="translate(26.1,531.95) scale(0.93,1)">
<text x="0" y="0" text-anchor="end" class="tl"> .0</text>
<path transform="translate(-11.26,0) scale(0.00396,-0.00396)" d="M515 0L515 1237L197 1010L197 1180L530 1409L696 1409L696 0Z" class="one"/>
</g>
<line x1="29.9" y1="510.8" x2="33.3" y2="510.8" stroke="#9a9a9a" stroke-width="0.9"/>
<g transform="translate(26.1,513.55) scale(0.93,1)">
<text x="0" y="0" text-anchor="end" class="tl"> .2</text>
<path transform="translate(-11.26,0) scale(0.00396,-0.00396)" d="M515 0L515 1237L197 1010L197 1180L530 1409L696 1409L696 0Z" class="one"/>
</g>
<line x1="29.9" y1="492.4" x2="33.3" y2="492.4" stroke="#9a9a9a" stroke-width="0.9"/>
<g transform="translate(26.1,495.15) scale(0.93,1)">
<text x="0" y="0" text-anchor="end" class="tl"> .4</text>
<path transform="translate(-11.26,0) scale(0.00396,-0.00396)" d="M515 0L515 1237L197 1010L197 1180L530 1409L696 1409L696 0Z" class="one"/>
</g>
<text transform="translate(10,547.9) rotate(-90) scale(0.93,1)" text-anchor="middle" class="yl">TA_RIGHT</text>
<line x1="85.5" y1="538.4" x2="85.5" y2="556.8" class="wk"/>
<line x1="85.5" y1="575.2" x2="85.5" y2="593.6" class="wk"/>
<line x1="77.1" y1="538.4" x2="93.9" y2="538.4" class="wk"/>
<line x1="77.1" y1="593.6" x2="93.9" y2="593.6" class="wk"/>
<rect x="68.2" y="556.8" width="34.6" height="18.4" fill="#F8766D" class="bx"/>
<line x1="68.2" y1="566" x2="102.8" y2="566" class="md"/>
<circle cx="85.5" cy="492.4" r="1.25" class="ol"/>
<circle cx="85.5" cy="510.8" r="1.25" class="ol"/>
<circle cx="85.5" cy="520" r="1.25" class="ol"/>
<circle cx="85.5" cy="529.2" r="1.25" class="ol"/>
<line x1="85.5" y1="608.45" x2="85.5" y2="612.96" stroke="#aaa" stroke-width="0.9"/>
<text transform="translate(85.5,621.98) scale(0.93,1)" text-anchor="middle" class="xl">F</text>
<line x1="172.5" y1="492.4" x2="172.5" y2="547.6" class="wk"/>
<line x1="172.5" y1="584.4" x2="172.5" y2="602.8" class="wk"/>
<line x1="164.1" y1="492.4" x2="180.9" y2="492.4" class="wk"/>
<line x1="164.1" y1="602.8" x2="180.9" y2="602.8" class="wk"/>
<rect x="155.2" y="547.6" width="34.6" height="36.8" fill="#00BFC4" class="bx"/>
<line x1="155.2" y1="575.2" x2="189.8" y2="575.2" class="md"/>
<line x1="172.5" y1="608.45" x2="172.5" y2="612.96" stroke="#aaa" stroke-width="0.9"/>
<text transform="translate(172.5,621.98) scale(0.93,1)" text-anchor="middle" class="xl">M</text>
<text transform="translate(129,637.01) scale(0.93,1)" text-anchor="middle" class="xl">Gender</text>
<text transform="translate(193.05,621.07) scale(0.7,1)" class="pl" font-size="13.2">(</text>
<text transform="translate(197.6,621.01) scale(1.02,1)" class="pl" font-size="12.02">j</text>
<text transform="translate(201.07,621.07) scale(0.7,1)" class="pl" font-size="13.2">)</text>
<line x1="231.3" y1="486.5" x2="455.1" y2="486.5" stroke="#555" stroke-width="1.3" stroke-linecap="square"/>
<line x1="231.3" y1="486.5" x2="231.3" y2="640.5" stroke="#555" stroke-width="1.3" stroke-linecap="square"/>
<line x1="455.1" y1="486.5" x2="455.1" y2="640.5" stroke="#555" stroke-width="1.3" stroke-linecap="square"/>
<line x1="263.5" y1="492.4" x2="263.5" y2="602.8" stroke="#e4e4e4" stroke-width="1"/>
<line x1="260.1" y1="602.8" x2="263.5" y2="602.8" stroke="#9a9a9a" stroke-width="0.9"/>
<g transform="translate(256.3,605.55) scale(0.93,1)">
<text x="0" y="0" text-anchor="end" class="tl">0.6</text>
</g>
<line x1="260.1" y1="584.4" x2="263.5" y2="584.4" stroke="#9a9a9a" stroke-width="0.9"/>
<g transform="translate(256.3,587.15) scale(0.93,1)">
<text x="0" y="0" text-anchor="end" class="tl">0.8</text>
</g>
<line x1="260.1" y1="566" x2="263.5" y2="566" stroke="#9a9a9a" stroke-width="0.9"/>
<g transform="translate(256.3,568.75) scale(0.93,1)">
<text x="0" y="0" text-anchor="end" class="tl"> .0</text>
<path transform="translate(-11.26,0) scale(0.00396,-0.00396)" d="M515 0L515 1237L197 1010L197 1180L530 1409L696 1409L696 0Z" class="one"/>
</g>
<line x1="260.1" y1="547.6" x2="263.5" y2="547.6" stroke="#9a9a9a" stroke-width="0.9"/>
<g transform="translate(256.3,550.35) scale(0.93,1)">
<text x="0" y="0" text-anchor="end" class="tl"> .2</text>
<path transform="translate(-11.26,0) scale(0.00396,-0.00396)" d="M515 0L515 1237L197 1010L197 1180L530 1409L696 1409L696 0Z" class="one"/>
</g>
<line x1="260.1" y1="529.2" x2="263.5" y2="529.2" stroke="#9a9a9a" stroke-width="0.9"/>
<g transform="translate(256.3,531.95) scale(0.93,1)">
<text x="0" y="0" text-anchor="end" class="tl"> .4</text>
<path transform="translate(-11.26,0) scale(0.00396,-0.00396)" d="M515 0L515 1237L197 1010L197 1180L530 1409L696 1409L696 0Z" class="one"/>
</g>
<line x1="260.1" y1="510.8" x2="263.5" y2="510.8" stroke="#9a9a9a" stroke-width="0.9"/>
<g transform="translate(256.3,513.55) scale(0.93,1)">
<text x="0" y="0" text-anchor="end" class="tl"> .6</text>
<path transform="translate(-11.26,0) scale(0.00396,-0.00396)" d="M515 0L515 1237L197 1010L197 1180L530 1409L696 1409L696 0Z" class="one"/>
</g>
<line x1="260.1" y1="492.4" x2="263.5" y2="492.4" stroke="#9a9a9a" stroke-width="0.9"/>
<g transform="translate(256.3,495.15) scale(0.93,1)">
<text x="0" y="0" text-anchor="end" class="tl"> .8</text>
<path transform="translate(-11.26,0) scale(0.00396,-0.00396)" d="M515 0L515 1237L197 1010L197 1180L530 1409L696 1409L696 0Z" class="one"/>
</g>
<text transform="translate(240.2,547.9) rotate(-90) scale(0.93,1)" text-anchor="middle" class="yl">AN_LEFT</text>
<line x1="315.7" y1="501.6" x2="315.7" y2="529.2" class="wk"/>
<line x1="315.7" y1="566" x2="315.7" y2="602.8" class="wk"/>
<line x1="307.3" y1="501.6" x2="324.1" y2="501.6" class="wk"/>
<line x1="307.3" y1="602.8" x2="324.1" y2="602.8" class="wk"/>
<rect x="298.4" y="529.2" width="34.6" height="36.8" fill="#F8766D" class="bx"/>
<line x1="298.4" y1="547.6" x2="333" y2="547.6" class="md"/>
<line x1="315.7" y1="608.45" x2="315.7" y2="612.96" stroke="#aaa" stroke-width="0.9"/>
<text transform="translate(315.7,621.98) scale(0.93,1)" text-anchor="middle" class="xl">F</text>
<line x1="402.7" y1="510.8" x2="402.7" y2="538.4" class="wk"/>
<line x1="402.7" y1="556.8" x2="402.7" y2="575.2" class="wk"/>
<line x1="394.3" y1="510.8" x2="411.1" y2="510.8" class="wk"/>
<line x1="394.3" y1="575.2" x2="411.1" y2="575.2" class="wk"/>
<rect x="385.4" y="538.4" width="34.6" height="18.4" fill="#00BFC4" class="bx"/>
<line x1="385.4" y1="547.6" x2="420" y2="547.6" class="md"/>
<circle cx="402.7" cy="501.6" r="1.25" class="ol"/>
<circle cx="402.7" cy="584.4" r="1.25" class="ol"/>
<circle cx="402.7" cy="593.6" r="1.25" class="ol"/>
<line x1="402.7" y1="608.45" x2="402.7" y2="612.96" stroke="#aaa" stroke-width="0.9"/>
<text transform="translate(402.7,621.98) scale(0.93,1)" text-anchor="middle" class="xl">M</text>
<text transform="translate(359.2,637.01) scale(0.93,1)" text-anchor="middle" class="xl">Gender</text>
<text transform="translate(415.78,621.11) scale(0.7,1)" class="pl" font-size="12.99">(</text>
<text transform="translate(420.43,621.2) scale(0.81,1)" class="pl" font-size="12.28">k</text>
<text transform="translate(426.69,621.11) scale(0.7,1)" class="pl" font-size="12.99">)</text>
<line x1="460.5" y1="486.5" x2="684" y2="486.5" stroke="#555" stroke-width="1.3" stroke-linecap="square"/>
<line x1="460.5" y1="486.5" x2="460.5" y2="640.5" stroke="#555" stroke-width="1.3" stroke-linecap="square"/>
<line x1="492.3" y1="492.4" x2="492.3" y2="602.8" stroke="#e4e4e4" stroke-width="1"/>
<line x1="488.9" y1="602.8" x2="492.3" y2="602.8" stroke="#9a9a9a" stroke-width="0.9"/>
<g transform="translate(485.1,605.55) scale(0.93,1)">
<text x="0" y="0" text-anchor="end" class="tl">0.6</text>
</g>
<line x1="488.9" y1="584.4" x2="492.3" y2="584.4" stroke="#9a9a9a" stroke-width="0.9"/>
<g transform="translate(485.1,587.15) scale(0.93,1)">
<text x="0" y="0" text-anchor="end" class="tl">0.8</text>
</g>
<line x1="488.9" y1="566" x2="492.3" y2="566" stroke="#9a9a9a" stroke-width="0.9"/>
<g transform="translate(485.1,568.75) scale(0.93,1)">
<text x="0" y="0" text-anchor="end" class="tl"> .0</text>
<path transform="translate(-11.26,0) scale(0.00396,-0.00396)" d="M515 0L515 1237L197 1010L197 1180L530 1409L696 1409L696 0Z" class="one"/>
</g>
<line x1="488.9" y1="547.6" x2="492.3" y2="547.6" stroke="#9a9a9a" stroke-width="0.9"/>
<g transform="translate(485.1,550.35) scale(0.93,1)">
<text x="0" y="0" text-anchor="end" class="tl"> .2</text>
<path transform="translate(-11.26,0) scale(0.00396,-0.00396)" d="M515 0L515 1237L197 1010L197 1180L530 1409L696 1409L696 0Z" class="one"/>
</g>
<line x1="488.9" y1="529.2" x2="492.3" y2="529.2" stroke="#9a9a9a" stroke-width="0.9"/>
<g transform="translate(485.1,531.95) scale(0.93,1)">
<text x="0" y="0" text-anchor="end" class="tl"> .4</text>
<path transform="translate(-11.26,0) scale(0.00396,-0.00396)" d="M515 0L515 1237L197 1010L197 1180L530 1409L696 1409L696 0Z" class="one"/>
</g>
<line x1="488.9" y1="510.8" x2="492.3" y2="510.8" stroke="#9a9a9a" stroke-width="0.9"/>
<g transform="translate(485.1,513.55) scale(0.93,1)">
<text x="0" y="0" text-anchor="end" class="tl"> .6</text>
<path transform="translate(-11.26,0) scale(0.00396,-0.00396)" d="M515 0L515 1237L197 1010L197 1180L530 1409L696 1409L696 0Z" class="one"/>
</g>
<line x1="488.9" y1="492.4" x2="492.3" y2="492.4" stroke="#9a9a9a" stroke-width="0.9"/>
<g transform="translate(485.1,495.15) scale(0.93,1)">
<text x="0" y="0" text-anchor="end" class="tl"> .8</text>
<path transform="translate(-11.26,0) scale(0.00396,-0.00396)" d="M515 0L515 1237L197 1010L197 1180L530 1409L696 1409L696 0Z" class="one"/>
</g>
<text transform="translate(469,547.9) rotate(-90) scale(0.93,1)" text-anchor="middle" class="yl">AN_RIGHT</text>
<line x1="544.5" y1="492.4" x2="544.5" y2="533.8" class="wk"/>
<line x1="544.5" y1="566" x2="544.5" y2="602.8" class="wk"/>
<line x1="536.1" y1="492.4" x2="552.9" y2="492.4" class="wk"/>
<line x1="536.1" y1="602.8" x2="552.9" y2="602.8" class="wk"/>
<rect x="527.2" y="533.8" width="34.6" height="32.2" fill="#F8766D" class="bx"/>
<line x1="527.2" y1="547.6" x2="561.8" y2="547.6" class="md"/>
<line x1="544.5" y1="608.45" x2="544.5" y2="612.96" stroke="#aaa" stroke-width="0.9"/>
<text transform="translate(544.5,621.98) scale(0.93,1)" text-anchor="middle" class="xl">F</text>
<line x1="631.5" y1="501.6" x2="631.5" y2="529.2" class="wk"/>
<line x1="631.5" y1="552.2" x2="631.5" y2="584.4" class="wk"/>
<line x1="623.1" y1="501.6" x2="639.9" y2="501.6" class="wk"/>
<line x1="623.1" y1="584.4" x2="639.9" y2="584.4" class="wk"/>
<rect x="614.2" y="529.2" width="34.6" height="23" fill="#00BFC4" class="bx"/>
<line x1="614.2" y1="547.6" x2="648.8" y2="547.6" class="md"/>
<line x1="631.5" y1="608.45" x2="631.5" y2="612.96" stroke="#aaa" stroke-width="0.9"/>
<text transform="translate(631.5,621.98) scale(0.93,1)" text-anchor="middle" class="xl">M</text>
<text transform="translate(588,637.01) scale(0.93,1)" text-anchor="middle" class="xl">Gender</text>
<text transform="translate(650.28,621.11) scale(0.7,1)" class="pl" font-size="12.99">(</text>
<text transform="translate(654.26,621.2) scale(1.02,1)" class="pl" font-size="12.28">l</text>
<text transform="translate(657.99,621.11) scale(0.7,1)" class="pl" font-size="12.99">)</text>
</svg>
</body></html>
